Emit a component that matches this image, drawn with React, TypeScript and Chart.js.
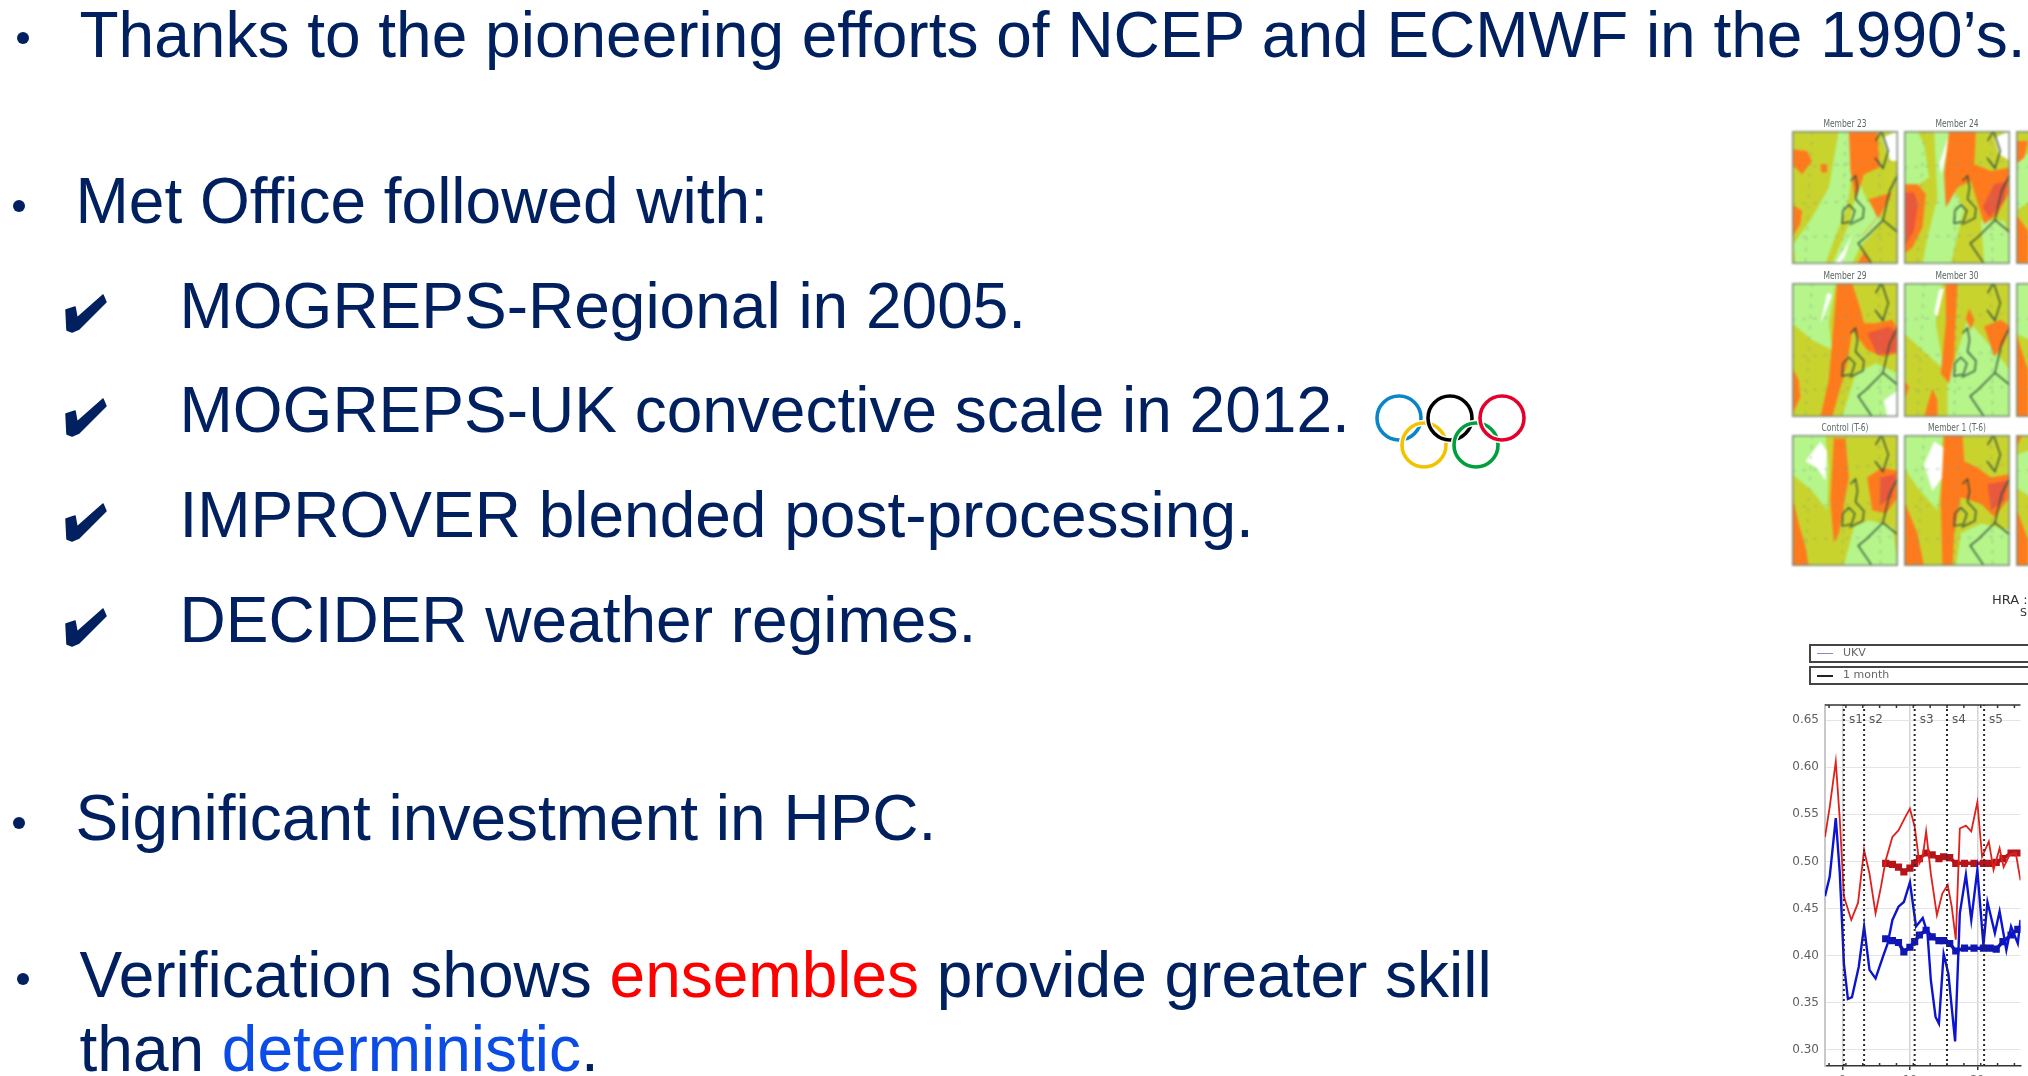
import React, { useEffect, useRef } from "react";
import { Chart, registerables } from "chart.js";

Chart.register(...registerables);

const NAVY = "#002060";
const FONT = "'Liberation Sans', Arial, sans-serif";
const FS = 64;
const LH = 54;
const BASE_OFFSET = 49.18;

// ---- Chart data (x = days relative to the first major tick) ----
const thinRedX = [-2.6, -1.9, -1.0, -0.4, 0.2, 1.3, 2.3, 3.2, 4.0, 4.9, 5.7, 6.4, 7.4, 8.3, 9.3, 10, 10.7, 11.4, 11.9, 12.4, 13.1, 14.0, 14.8, 15.6, 16.2, 16.8, 17.4, 18.3, 19.1, 20, 20.7, 21.7, 22.4, 23.3, 23.9, 24.8, 25.7, 26.4];
const thinRedY = [0.526, 0.558, 0.606, 0.544, 0.463, 0.438, 0.456, 0.512, 0.487, 0.445, 0.473, 0.501, 0.526, 0.533, 0.547, 0.556, 0.537, 0.498, 0.505, 0.532, 0.487, 0.443, 0.466, 0.475, 0.452, 0.417, 0.535, 0.538, 0.532, 0.563, 0.505, 0.521, 0.491, 0.514, 0.494, 0.507, 0.509, 0.48];
const thinBlueX = [-2.6, -1.9, -1.0, -0.4, 0.2, 0.8, 1.4, 2.4, 3.2, 4.0, 4.9, 6.0, 6.7, 7.4, 8.3, 9.1, 10, 10.9, 11.9, 12.6, 13.1, 13.8, 14.3, 15.0, 15.7, 16.7, 17.4, 18.3, 19.1, 20, 20.9, 21.5, 22.6, 23.3, 24.3, 25, 26, 26.4];
const thinBlueY = [0.463, 0.484, 0.546, 0.487, 0.392, 0.354, 0.356, 0.388, 0.431, 0.385, 0.376, 0.399, 0.413, 0.438, 0.452, 0.457, 0.478, 0.431, 0.44, 0.424, 0.374, 0.335, 0.328, 0.402, 0.381, 0.309, 0.445, 0.486, 0.438, 0.491, 0.411, 0.457, 0.424, 0.447, 0.406, 0.431, 0.413, 0.438];
const thickX = [6.4, 7.4, 8.3, 9.1, 10, 10.7, 11.4, 12.4, 13.3, 14.3, 15.0, 15.9, 16.8, 18.1, 19.5, 20.9, 21.9, 22.8, 23.8, 25.0, 26.0];
const thickRedY = [0.498, 0.497, 0.494, 0.489, 0.493, 0.498, 0.503, 0.509, 0.507, 0.503, 0.505, 0.504, 0.498, 0.498, 0.498, 0.498, 0.498, 0.499, 0.503, 0.509, 0.509];
const thickBlueY = [0.418, 0.416, 0.414, 0.404, 0.409, 0.415, 0.422, 0.427, 0.42, 0.416, 0.416, 0.413, 0.405, 0.408, 0.408, 0.408, 0.408, 0.407, 0.415, 0.422, 0.428];
const eventX = [0.2, 3.2, 10.7, 15.5, 21];
const eventLabels = ["s1", "s2", "s3", "s4", "s5"];
const yTicks = [0.3, 0.35, 0.4, 0.45, 0.5, 0.55, 0.6, 0.65];
const xTicks = [0, 10, 20];
const xTickLabels = ["0", "10", "20"];
const legendNames = ["UKV", "1 month"];

// ---- Slide text ----
const bullets: { text: any[]; x: number; base: number; dot?: [number, number]; check?: boolean }[] = [
  { text: ["Thanks to the pioneering efforts of NCEP and ECMWF in the 1990’s."], x: 79.5, base: 57, dot: [23, 38] },
  { text: ["Met Office followed with:"], x: 75.5, base: 223, dot: [19, 206] },
  { text: ["MOGREPS-Regional in 2005."], x: 179.5, base: 328, check: true },
  { text: ["MOGREPS-UK convective scale in 2012."], x: 179.5, base: 432, check: true },
  { text: ["IMPROVER blended post-processing."], x: 179.5, base: 537, check: true },
  { text: ["DECIDER weather regimes."], x: 179.5, base: 642, check: true },
  { text: ["Significant investment in HPC."], x: 75.5, base: 840, dot: [19, 823] },
  { text: ["Verification shows ", ["ensembles", "#ff0000"], " provide greater skill"], x: 79.5, base: 997, dot: [23, 979] },
  { text: ["than ", ["deterministic", "#0b4be6"], "."], x: 79.5, base: 1071 },
];

// ---- Decorative map panels (viewBox 0 0 317 400) ----
const C = { g: "#b5f58a", o: "#c9d32e", r: "#ff7a1c", d: "#e9583c", w: "#ffffff" };
type Layer = [string, string];
const panels: { title: string; x: number; y: number; h: number; layers: Layer[] }[] = [
  { title: "Member 23", x: 1792, y: 131, h: 133, layers: [
    [C.g, "140,0 170,0 180,120 165,230 125,330 100,400 10,400 5,340 60,260 110,170"],
    [C.g, "200,150 225,210 270,270 230,320 205,345 180,400 120,400 170,280"],
    [C.w, "165,340 180,310 150,400 128,400"],
    [C.w, "270,20 317,0 317,90 295,90"],
    [C.r, "170,0 255,0 262,110 215,130 190,210 175,120"],
    [C.r, "0,55 45,60 60,90 30,130 0,100"], [C.r, "85,100 105,100 105,125 88,125"],
    [C.r, "0,220 30,240 25,280 0,320"],
    [C.r, "230,205 300,185 265,250 215,310 200,325 255,260"],
    [C.r, "195,400 215,365 238,400"],
  ] },
  { title: "Member 24", x: 1904, y: 131, h: 133, layers: [
    [C.g, "0,0 40,0 60,40 75,140 30,170 0,170"],
    [C.g, "90,0 135,0 120,130 180,230 140,400 55,400 70,320 100,200"],
    [C.g, "230,270 300,270 317,330 317,400 240,400"],
    [C.w, "105,100 135,10 128,60 112,130"],
    [C.w, "270,20 317,0 317,90 285,70"],
    [C.r, "0,160 40,160 65,190 55,290 25,350 0,370"],
    [C.d, "0,185 30,185 42,220 30,300 0,350"],
    [C.r, "135,0 215,0 210,100 260,120 317,110 317,180 280,250 240,280 200,150 160,170 125,230 120,130"],
    [C.d, "270,160 310,150 300,210 255,260 235,230"],
  ] },
  { title: "Member 29", x: 1792, y: 283, h: 134, layers: [
    [C.g, "0,0 130,0 110,120 120,200 60,170 0,120"],
    [C.g, "190,270 250,240 317,270 317,400 150,400"],
    [C.w, "85,120 105,30 120,35 95,100"],
    [C.w, "275,350 317,320 317,400 285,400"],
    [C.r, "135,0 180,0 205,80 215,120 250,120 300,110 317,140 317,210 270,220 225,200 180,140 165,240 120,400 85,400 110,290"],
    [C.d, "225,150 290,130 315,150 310,205 255,215"],
    [C.r, "0,250 20,290 25,340 0,395"],
  ] },
  { title: "Member 30", x: 1904, y: 283, h: 134, layers: [
    [C.g, "0,0 115,0 95,120 120,260 0,150"],
    [C.g, "130,300 190,110 270,200 317,260 317,400 130,400"],
    [C.w, "90,90 105,20 120,15 100,100"],
    [C.r, "125,0 160,0 155,100 150,220 135,300 110,270 125,120"],
    [C.r, "195,75 210,110 200,140 185,105"],
    [C.r, "240,130 290,110 317,130 300,180 270,220 250,160"],
    [C.r, "60,400 85,315 100,350 100,400"], [C.r, "0,290 15,310 5,340 0,345"],
  ] },
  { title: "Control (T-6)", x: 1792, y: 435, h: 131, layers: [
    [C.g, "0,0 100,0 110,100 105,230 60,170 0,120"],
    [C.g, "155,400 185,280 230,260 300,280 317,400"],
    [C.w, "40,80 85,20 105,50 100,140 75,100"],
    [C.r, "125,10 160,10 170,130 140,300 125,330 115,200"],
    [C.r, "225,130 270,100 317,110 317,190 280,240 240,230"],
    [C.d, "265,130 310,120 300,190 262,215"],
    [C.r, "0,180 20,270 40,340 50,400 0,400"],
  ] },
  { title: "Member 1 (T-6)", x: 1904, y: 435, h: 131, layers: [
    [C.g, "0,0 115,0 110,150 100,230 40,160 0,100"],
    [C.g, "155,400 170,300 230,270 317,290 317,400"],
    [C.w, "60,90 90,20 120,40 115,130 85,170"],
    [C.r, "120,0 175,0 180,80 220,100 260,130 317,120 317,190 270,250 230,210 170,190 150,300 145,400 115,400 110,200"],
    [C.d, "250,150 310,140 300,200 260,230"],
    [C.r, "0,200 40,300 60,400 0,400"],
  ] },
  { title: "", x: 2016, y: 131, h: 133, layers: [[C.g, "0,80 60,60 60,200 0,240"], [C.r, "0,30 36,30 25,80 0,100"], [C.r, "0,250 36,300 36,400 0,400"]] },
  { title: "", x: 2016, y: 283, h: 134, layers: [[C.g, "0,0 60,0 60,180 0,150"], [C.r, "0,150 36,260 36,400 0,400"]] },
  { title: "", x: 2016, y: 435, h: 131, layers: [[C.g, "0,60 60,40 60,200 0,160"], [C.r, "0,0 20,0 0,40"], [C.r, "0,220 36,320 36,400 0,400"]] },
];
const coasts = [
  "175,150 190,135 196,170 190,205 215,232 212,262 172,282",
  "152,240 170,222 188,240 178,272 150,278 152,240",
  "250,30 268,0 288,60 272,112 248,80",
  "317,130 292,180 272,268 222,318 198,338 240,400",
  "272,268 317,305",
];
const graticule = ["60,0 40,400", "160,0 150,400", "260,0 265,400", "0,110 317,90", "0,220 317,205", "0,320 317,310"];
const rings: [number, number, string][] = [
  [1399, 418, "#0a85c8"], [1424, 445, "#f4c300"], [1450, 418, "#000000"], [1476, 445, "#009f3d"], [1502, 418, "#e4002b"],
];

function Panel({ p }: { p: (typeof panels)[number] }) {
  return (
    <>
      {p.title && (
        <div style={{ position: "absolute", left: p.x, width: 106, top: p.y - 14, textAlign: "center", font: `10.5px 'DejaVu Sans Condensed','DejaVu Sans',sans-serif`, color: "#5a6966", transform: "scaleX(.8)", filter: "blur(.35px)" }}>{p.title}</div>
      )}
      <svg width={106} height={p.h} viewBox="0 0 317 400" preserveAspectRatio="none" style={{ position: "absolute", left: p.x, top: p.y, filter: "blur(.8px)" }}>
        <rect x={0} y={0} width={317} height={400} fill={C.o} />
        {p.layers.map((l, i) => <polygon key={i} points={l[1]} fill={l[0]} />)}
        {graticule.map((c, i) => <polyline key={i} points={c} fill="none" stroke="#7f9a80" strokeWidth={2} strokeDasharray="10 22" />)}
        {coasts.map((c, i) => <polyline key={i} points={c} fill="none" stroke="#2c4a38" strokeWidth={4} />)}
        <rect x={2} y={2} width={313} height={396} fill="none" stroke="#7d8f7d" strokeWidth={5} />
      </svg>
    </>
  );
}

export default function App() {
  const ref = useRef<HTMLCanvasElement>(null);
  useEffect(() => {
    const line = (xs: number[], ys: number[], color: string, width: number, pr = 0) => ({
      data: xs.map((x, i) => ({ x, y: ys[i] })),
      borderColor: color,
      backgroundColor: color,
      borderWidth: width,
      pointRadius: pr,
      pointStyle: "rect",
      tension: 0,
    });
    const eventDatasets = eventX.map((x) => ({
      data: [{ x, y: 0.283 }, { x, y: 0.666 }],
      borderColor: "#2a2a2a",
      borderWidth: 2,
      borderDash: [2, 3],
      pointRadius: 0,
    }));
    const decor = {
      id: "decor",
      afterDatasetsDraw(chart: any) {
        const { ctx, chartArea: a, scales } = chart;
        ctx.save();
        ctx.strokeStyle = "#333";
        ctx.lineWidth = 1.5;
        ctx.beginPath();
        ctx.moveTo(a.left, a.top);
        ctx.lineTo(a.right, a.top);
        for (let v = -2; v <= 26; v += 2.5) {
          const px = scales.x.getPixelForValue(v);
          ctx.moveTo(px, a.top);
          ctx.lineTo(px, a.top + 3);
          ctx.moveTo(px, a.bottom);
          ctx.lineTo(px, a.bottom - 3);
        }
        ctx.stroke();
        ctx.fillStyle = "#555";
        ctx.font = "12px 'DejaVu Sans'";
        ctx.textBaseline = "middle";
        eventX.forEach((x, i) => {
          ctx.fillText(eventLabels[i], scales.x.getPixelForValue(x) + 5, scales.y.getPixelForValue(0.65));
        });
        ctx.restore();
      },
    };
    const chart = new Chart(ref.current!, {
      type: "line",
      data: {
        datasets: [
          ...eventDatasets,
          line(thinRedX, thinRedY, "#e0201c", 1.8),
          line(thinBlueX, thinBlueY, "#0c14d0", 2.4),
          line(thickX, thickRedY, "#b5141a", 3.5, 2.6),
          line(thickX, thickBlueY, "#1016b0", 3.5, 2.6),
        ] as any,
      },
      plugins: [decor],
      options: {
        animation: false,
        responsive: false,
        parsing: false as any,
        layout: { padding: { top: 15, right: 0, bottom: 0, left: 0 } },
        plugins: { legend: { display: false }, tooltip: { enabled: false }, title: { display: false } },
        scales: {
          x: {
            type: "linear",
            min: -2.6,
            max: 26.4,
            afterBuildTicks: (s: any) => { s.ticks = xTicks.map((value) => ({ value })); },
            ticks: { autoSkip: false, maxRotation: 0, color: "#666", font: { family: "DejaVu Sans", size: 11 }, padding: 4, callback: (v: any) => xTickLabels[xTicks.indexOf(v)] ?? "" },
            grid: { color: "#d4d4d4", lineWidth: 1.5, tickLength: 4, tickColor: "#333" },
            border: { color: "#333", width: 1.5 },
            afterFit: (s: any) => { s.height = 24; s.paddingLeft = 0; s.paddingRight = 0; },
          },
          y: {
            type: "linear",
            min: 0.283,
            max: 0.666,
            afterBuildTicks: (s: any) => { s.ticks = yTicks.map((value) => ({ value })); },
            ticks: { autoSkip: false, color: "#606060", font: { family: "DejaVu Sans", size: 12 }, padding: 6, callback: (v: any) => Number(v).toFixed(2) },
            grid: { color: "#e4e4e4", lineWidth: 1, tickLength: 0 },
            border: { color: "#c8c8c8", width: 2 },
            afterFit: (s: any) => { s.width = 55; },
          },
        },
      },
    });
    return () => chart.destroy();
  }, []);

  return (
    <div style={{ position: "fixed", left: 0, top: 0, width: 2028, height: 1076, overflow: "hidden", background: "#fff" }}>
      {bullets.map((b, i) => (
        <React.Fragment key={i}>
          {b.dot && <div style={{ position: "absolute", left: b.dot[0] - 6, top: b.dot[1] - 6, width: 12, height: 12, borderRadius: 6, background: NAVY }} />}
          <div style={{ position: "absolute", left: b.x, top: b.base - BASE_OFFSET, font: `${FS}px ${FONT}`, lineHeight: `${LH}px`, color: NAVY, whiteSpace: "pre" }}>
            {b.text.map((t, j) => typeof t === "string" ? <span key={j}>{t}</span> : <span key={j} style={{ color: t[1] }}>{t[0]}</span>)}
          </div>
        </React.Fragment>
      ))}

      <svg width={2028} height={1076} style={{ position: "absolute", left: 0, top: 0 }}>
        {bullets.filter((b) => b.check).map((b, i) => (
          <polygon key={i} transform={`translate(0 ${b.base - 328})`} points="66,310 75,307 77,318 103,295 106,302 79,329 72,332 67,330" fill={NAVY} stroke={NAVY} strokeWidth={1.5} strokeLinejoin="round" />
        ))}
        {rings.map(([cx, cy, col], i) => (
          <g key={i}>
            <circle cx={cx} cy={cy} r={22} fill="none" stroke="#fff" strokeWidth={6.5} />
            <circle cx={cx} cy={cy} r={22} fill="none" stroke={col} strokeWidth={3.6} />
          </g>
        ))}
      </svg>

      {panels.map((p, i) => <Panel key={i} p={p} />)}

      <div style={{ position: "absolute", left: 1992, top: 592, font: "13px 'DejaVu Sans'", color: "#333", whiteSpace: "pre", filter: "blur(.6px)" }}>HRA :</div>
      <div style={{ position: "absolute", left: 2020, top: 606, font: "11px 'DejaVu Sans'", color: "#333", filter: "blur(.6px)" }}>S</div>
      {legendNames.map((n, i) => (
        <div key={n} style={{ position: "absolute", left: 1809, top: 644 + i * 22, width: 240, height: 15, border: "2px solid #444", background: "#fff", filter: "blur(.5px)" }}>
          <div style={{ position: "absolute", left: 6, top: 7, width: 16, height: i ? 2 : 1, background: i ? "#222" : "#8a88c0" }} />
          <div style={{ position: "absolute", left: 32, top: 0, font: "11px 'DejaVu Sans'", color: "#666", whiteSpace: "pre" }}>{n}</div>
        </div>
      ))}
      <div style={{ position: "absolute", left: 1770, top: 690, width: 258, height: 386, overflow: "hidden" }}>
        <canvas ref={ref} width={258} height={400} style={{ display: "block", width: 258, height: 400, filter: "blur(.45px)" }} />
      </div>
    </div>
  );
}
